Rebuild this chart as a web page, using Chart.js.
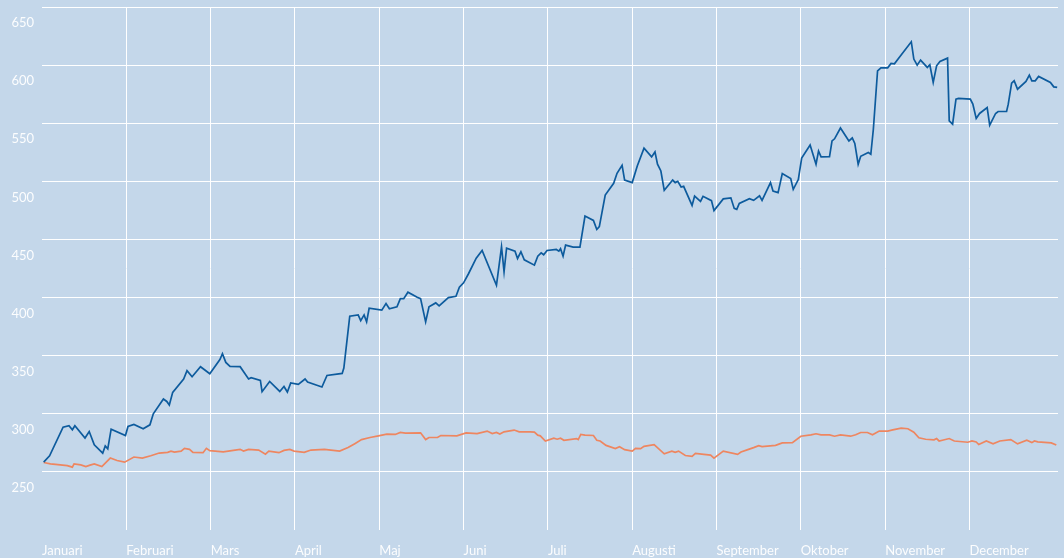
<!DOCTYPE html>
<html>
<head>
<meta charset="utf-8">
<script src="https://cdn.jsdelivr.net/npm/chart.js@4/dist/chart.umd.min.js"></script>
<style>
  html, body { margin: 0; padding: 0; background: #c4d7ea; }
  canvas { display: block; }
</style>
</head>
<body>
<canvas id="chart" width="1064" height="558"></canvas>
<script>
const months = ["Januari", "Februari", "Mars", "April", "Maj", "Juni", "Juli", "Augusti", "September", "Oktober", "November", "December"]
const yTicks = [250, 300, 350, 400, 450, 500, 550, 600, 650]

// x = position in months (0 = 1 jan), y = value
const blueX = [0.02, 0.09, 0.25, 0.32, 0.36, 0.39, 0.51, 0.56, 0.62, 0.72, 0.75, 0.78, 0.82, 0.99, 1.02, 1.09, 1.20, 1.28, 1.32, 1.44, 1.48, 1.51, 1.55, 1.68, 1.72, 1.78, 1.88, 1.99, 2.11, 2.14, 2.18, 2.23, 2.35, 2.45, 2.48, 2.59, 2.61, 2.70, 2.82, 2.87, 2.91, 2.95, 3.04, 3.12, 3.15, 3.32, 3.38, 3.56, 3.58, 3.65, 3.75, 3.78, 3.82, 3.85, 3.88, 4.03, 4.08, 4.12, 4.21, 4.25, 4.29, 4.34, 4.45, 4.49, 4.55, 4.59, 4.67, 4.71, 4.82, 4.91, 4.95, 5.00, 5.06, 5.15, 5.22, 5.39, 5.45, 5.48, 5.51, 5.61, 5.64, 5.68, 5.72, 5.84, 5.88, 5.92, 5.95, 5.99, 6.10, 6.13, 6.15, 6.18, 6.21, 6.30, 6.38, 6.44, 6.54, 6.58, 6.61, 6.68, 6.78, 6.82, 6.88, 6.91, 7.00, 7.06, 7.14, 7.23, 7.27, 7.30, 7.34, 7.38, 7.48, 7.51, 7.54, 7.58, 7.61, 7.71, 7.74, 7.81, 7.84, 7.94, 7.97, 8.08, 8.17, 8.21, 8.24, 8.27, 8.39, 8.44, 8.51, 8.54, 8.64, 8.67, 8.73, 8.78, 8.88, 8.91, 8.97, 9.01, 9.11, 9.18, 9.21, 9.24, 9.34, 9.37, 9.40, 9.47, 9.57, 9.61, 9.64, 9.68, 9.71, 9.80, 9.83, 9.86, 9.91, 9.95, 10.03, 10.07, 10.11, 10.16, 10.31, 10.34, 10.38, 10.42, 10.50, 10.53, 10.57, 10.61, 10.65, 10.74, 10.76, 10.80, 10.84, 10.87, 11.01, 11.04, 11.08, 11.12, 11.21, 11.24, 11.31, 11.34, 11.44, 11.46, 11.50, 11.53, 11.57, 11.67, 11.71, 11.74, 11.78, 11.82, 11.96, 12.00, 12.04]
const blueY = [258.4, 263.8, 288.5, 289.7, 286.2, 289.7, 279.1, 284.7, 273.3, 266.1, 272.4, 269.8, 286.8, 281.3, 289.1, 290.8, 287.1, 290.5, 300.0, 312.7, 310.6, 307.5, 318.4, 329.9, 337.1, 331.9, 340.5, 334.5, 346.6, 351.7, 344.2, 340.8, 340.5, 329.9, 331.0, 328.7, 319.0, 327.8, 319.2, 323.5, 318.7, 326.5, 325.3, 329.9, 327.3, 323.0, 333.0, 334.7, 339.4, 383.9, 385.1, 380.2, 385.1, 379.1, 390.8, 389.2, 394.8, 390.3, 392.0, 399.1, 399.1, 404.6, 400.3, 399.1, 379.1, 392.0, 395.4, 392.9, 400.0, 401.1, 408.9, 412.7, 420.7, 433.9, 440.5, 410.6, 443.7, 422.2, 442.5, 439.9, 433.6, 439.4, 432.5, 427.9, 435.6, 438.5, 436.8, 440.5, 441.4, 439.9, 442.0, 435.6, 445.1, 443.4, 443.4, 470.1, 466.4, 458.6, 461.0, 488.2, 498.3, 506.9, 513.8, 501.1, 498.9, 513.2, 528.5, 521.0, 525.3, 514.7, 508.9, 492.3, 501.1, 498.9, 500.0, 495.1, 495.7, 479.3, 487.3, 482.8, 487.1, 483.4, 474.8, 484.9, 485.8, 476.7, 475.9, 481.0, 485.1, 483.6, 487.5, 483.6, 498.9, 491.6, 490.3, 506.7, 502.4, 493.1, 501.5, 520.0, 531.2, 514.7, 526.1, 521.1, 521.3, 534.8, 536.6, 545.9, 534.8, 537.3, 532.6, 514.7, 521.6, 524.8, 523.3, 544.8, 595.1, 597.7, 597.7, 601.5, 601.1, 606.0, 620.1, 605.2, 600.0, 604.3, 598.0, 600.3, 585.1, 599.4, 603.2, 606.0, 552.0, 549.2, 570.7, 571.3, 570.7, 566.4, 554.1, 558.4, 563.5, 548.3, 558.4, 560.1, 560.1, 566.4, 584.5, 586.5, 579.3, 586.0, 591.4, 586.5, 586.5, 590.3, 585.1, 581.3, 580.8]

const orangeX = [0.02, 0.10, 0.16, 0.30, 0.36, 0.38, 0.46, 0.52, 0.57, 0.62, 0.71, 0.81, 0.89, 0.98, 1.09, 1.19, 1.29, 1.39, 1.49, 1.53, 1.57, 1.65, 1.69, 1.75, 1.79, 1.91, 1.95, 1.99, 2.15, 2.27, 2.35, 2.39, 2.45, 2.57, 2.65, 2.69, 2.81, 2.87, 2.94, 2.99, 3.11, 3.19, 3.35, 3.53, 3.63, 3.71, 3.79, 3.89, 3.99, 4.09, 4.19, 4.25, 4.31, 4.49, 4.55, 4.59, 4.69, 4.73, 4.92, 5.03, 5.16, 5.28, 5.34, 5.39, 5.43, 5.48, 5.60, 5.66, 5.79, 5.84, 5.88, 5.91, 5.97, 6.07, 6.11, 6.15, 6.19, 6.34, 6.36, 6.39, 6.44, 6.54, 6.58, 6.62, 6.69, 6.80, 6.85, 6.91, 7.00, 7.04, 7.10, 7.14, 7.26, 7.38, 7.47, 7.51, 7.55, 7.63, 7.71, 7.75, 7.85, 7.93, 7.97, 8.08, 8.25, 8.29, 8.38, 8.44, 8.50, 8.54, 8.70, 8.78, 8.90, 9.00, 9.12, 9.18, 9.24, 9.34, 9.40, 9.47, 9.59, 9.65, 9.71, 9.79, 9.85, 9.93, 10.03, 10.09, 10.19, 10.27, 10.34, 10.40, 10.48, 10.58, 10.61, 10.64, 10.76, 10.82, 10.98, 11.03, 11.08, 11.11, 11.20, 11.28, 11.36, 11.49, 11.57, 11.68, 11.74, 11.77, 11.81, 11.97, 12.03]
const orangeY = [258.1, 256.9, 256.4, 255.4, 254.1, 256.9, 256.0, 254.6, 255.8, 256.9, 254.6, 261.9, 259.8, 258.4, 262.8, 261.9, 263.9, 266.2, 266.8, 267.9, 267.1, 267.9, 270.3, 269.4, 266.8, 266.5, 270.3, 268.3, 267.3, 268.5, 269.4, 267.9, 269.4, 268.8, 265.3, 267.9, 266.5, 268.5, 269.4, 267.9, 266.8, 268.8, 269.4, 267.9, 270.9, 274.3, 277.8, 279.6, 281.0, 282.5, 282.2, 283.9, 283.4, 283.6, 277.8, 279.6, 279.6, 281.3, 281.0, 283.6, 283.0, 285.1, 283.0, 283.9, 282.5, 284.5, 286.0, 284.5, 284.5, 284.2, 281.6, 281.0, 276.6, 279.0, 278.1, 279.0, 277.2, 278.7, 277.8, 282.2, 281.6, 281.3, 277.2, 276.6, 272.8, 270.0, 271.7, 269.1, 267.9, 270.3, 270.0, 272.0, 273.5, 265.6, 267.9, 266.8, 267.9, 264.1, 263.3, 266.0, 265.1, 264.5, 261.9, 267.9, 265.1, 267.1, 269.4, 270.9, 272.6, 271.7, 272.8, 274.9, 275.2, 280.7, 281.9, 282.8, 281.9, 281.9, 280.7, 281.9, 280.7, 281.9, 283.9, 283.9, 281.9, 285.1, 285.1, 286.2, 287.7, 287.1, 284.2, 279.3, 278.1, 277.6, 278.7, 276.6, 278.7, 276.6, 275.5, 276.6, 275.8, 273.5, 276.6, 274.1, 276.6, 277.8, 274.1, 277.2, 275.2, 276.6, 275.8, 274.9, 273.1]

const bg = {
    id: 'bg',
    beforeDraw(chart) {
        const c = chart.ctx
        c.save()
        c.fillStyle = '#c4d7ea'
        c.fillRect(0, 0, chart.width, chart.height)
        c.restore()
    }
}

const textColor = 'rgba(255,255,255,0.95)'

let chart = new Chart(document.getElementById('chart').getContext('2d'), {
    type: 'line',
    data: {
        datasets: [
            {
                label: 'Blå',
                data: blueX.map((x, i) => ({x: x, y: blueY[i]})),
                borderColor: '#0d5b9d',
                borderWidth: 1.7,
                pointRadius: 0,
                tension: 0
            },
            {
                label: 'Orange',
                data: orangeX.map((x, i) => ({x: x, y: orangeY[i]})),
                borderColor: '#ee8660',
                borderWidth: 1.7,
                pointRadius: 0,
                tension: 0
            }
        ]
    },
    options: {
        responsive: false,
        animation: false,
        layout: { padding: { top: 7, right: 6, left: 0, bottom: 0 } },
        scales: {
            x: {
                type: 'linear',
                min: 0,
                max: 12.05,
                afterBuildTicks: (scale) => {
                    scale.ticks = months.map((m, i) => ({value: i}))
                },
                afterFit: (scale) => {
                    scale.height = 28
                    scale.paddingLeft = 0
                    scale.paddingRight = 0
                },
                border: { display: false },
                grid: {
                    drawTicks: false,
                    lineWidth: 1,
                    color: (ctx) => ctx.tick && ctx.tick.value === 0 ? 'rgba(0,0,0,0)' : '#ffffff'
                },
                ticks: {
                    align: 'start',
                    padding: 13,
                    maxRotation: 0,
                    autoSkip: false,
                    color: textColor,
                    font: { family: 'Lato', size: 13 },
                    callback: (v) => months[v]
                }
            },
            y: {
                min: 200,
                max: 650,
                afterBuildTicks: (scale) => {
                    scale.ticks = yTicks.map(v => ({value: v}))
                },
                afterFit: (scale) => {
                    scale.width = 42
                    scale.paddingTop = 0
                    scale.paddingBottom = 0
                },
                border: { display: false },
                grid: {
                    drawTicks: false,
                    lineWidth: 1,
                    color: '#ffffff'
                },
                ticks: {
                    padding: 8,
                    labelOffset: 16,
                    color: textColor,
                    font: { family: 'Lato', size: 13 }
                }
            }
        },
        plugins: {
            legend: { display: false },
            tooltip: { enabled: false }
        }
    },
    plugins: [bg]
})
</script>
</body>
</html>
